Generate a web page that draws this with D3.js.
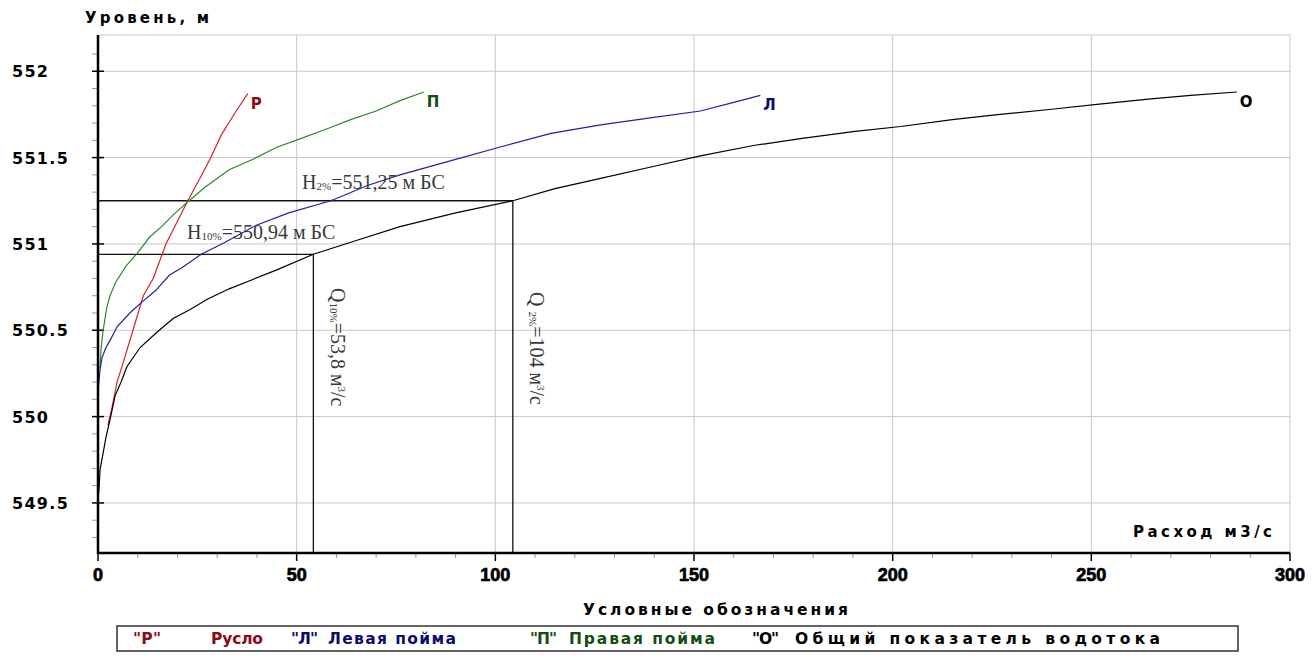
<!DOCTYPE html>
<html><head><meta charset="utf-8">
<script src="https://cdn.jsdelivr.net/npm/d3@7"></script>
<style>body{margin:0;background:#fff}svg{display:block}</style>
</head><body><svg id="c" width="1314" height="661"></svg>
<script>
// ---------- data ----------
const xTicks = [0, 50, 100, 150, 200, 250, 300];
const xTickLabels = ["0", "50", "100", "150", "200", "250", "300"];
const yTicks = [549.5, 550, 550.5, 551, 551.5, 552];
const yTickLabels = ["549.5", "550", "550.5", "551", "551.5", "552"];

// Русло (Р)
const rusloQ = [2.5, 3, 3.5, 4.8, 6.3, 8.8, 11.4, 13.9, 17.1, 22.6, 25.9, 28.4, 31, 34.5, 37.7];
const rusloH = [549.95, 550.0, 550.05, 550.2, 550.31, 550.5, 550.70, 550.8, 551.0, 551.25, 551.39, 551.5, 551.63, 551.76, 551.87];
// Правая пойма (П)
const pravQ = [0.5, 0.8, 1.3, 2.2, 3, 4.5, 7, 10, 13, 16, 19, 22.9, 27, 33, 39, 45, 51, 58, 63.6, 70, 76, 82];
const pravH = [550.28, 550.4, 550.5, 550.63, 550.70, 550.78, 550.87, 550.95, 551.04, 551.10, 551.17, 551.25, 551.33, 551.43, 551.49, 551.56, 551.61, 551.67, 551.72, 551.77, 551.83, 551.88];
// Левая пойма (Л)
const levQ = [0.1, 0.5, 1, 2, 3, 4.8, 8, 11.4, 14.5, 18, 21, 26, 32, 40, 48, 58.6, 68, 76, 90, 101, 114, 126.5, 139, 151.6, 160, 166.7];
const levH = [550.17, 550.27, 550.34, 550.40, 550.44, 550.52, 550.60, 550.67, 550.73, 550.82, 550.86, 550.94, 551.01, 551.11, 551.18, 551.25, 551.34, 551.40, 551.49, 551.56, 551.64, 551.69, 551.73, 551.77, 551.82, 551.86];
// Общий показатель водотока (О)
const obshQ = [0, 0.3, 0.5, 1.3, 2, 3, 4.3, 5.8, 7.3, 10.6, 14.9, 19, 23.2, 27.5, 33, 38.5, 45, 54.2, 65, 76, 90, 104.4, 115, 126.5, 140, 151.6, 165, 176.8, 190, 202, 215, 227, 240, 252, 265, 275, 286.6];
const obshH = [549.52, 549.6, 549.69, 549.79, 549.88, 549.98, 550.12, 550.2, 550.29, 550.40, 550.49, 550.57, 550.62, 550.68, 550.74, 550.79, 550.85, 550.94, 551.02, 551.10, 551.18, 551.25, 551.32, 551.38, 551.45, 551.51, 551.57, 551.61, 551.65, 551.68, 551.72, 551.75, 551.78, 551.81, 551.84, 551.86, 551.88];

// design values
const q10 = 54.2, h10 = 550.94;
const q2 = 104.4, h2 = 551.25;

const seriesCodes = ["Р", "П", "Л", "О"];

// ---------- drawing ----------
const svg = d3.select("#c");
svg.append("rect").attr("width", 1314).attr("height", 661).attr("fill", "#fff");

const L = 98, R = 1290, T = 35, B = 553;
const x = d3.scaleLinear().domain([0, 300]).range([L, R]);
const y = d3.scaleLinear().domain([549.21, 552.21]).range([B, T]);

const heavy = "'DejaVu Sans', Verdana, sans-serif";
const arial = "'Liberation Sans', Arial, sans-serif";
const serif = "'Liberation Serif', 'Times New Roman', serif";

// grid
const g = svg.append("g");
g.selectAll(".gx").data(xTicks.filter(d => d > 0)).join("line")
  .attr("x1", d => x(d)).attr("x2", d => x(d)).attr("y1", T).attr("y2", B)
  .attr("stroke", "#c8c8c8").attr("stroke-width", 1);
g.selectAll(".gy").data(yTicks).join("line")
  .attr("x1", L).attr("x2", R).attr("y1", d => y(d)).attr("y2", d => y(d))
  .attr("stroke", "#c8c8c8").attr("stroke-width", 1);
g.append("line").attr("x1", L).attr("x2", R).attr("y1", T).attr("y2", T)
  .attr("stroke", "#c8c8c8");

// minor ticks
const xMinor = d3.range(0, 301, 10).filter(d => d % 50 !== 0);
g.selectAll(".mx").data(xMinor).join("line")
  .attr("x1", d => x(d)).attr("x2", d => x(d)).attr("y1", B).attr("y2", B + 5)
  .attr("stroke", "#999");
const yMinor = d3.range(549.3, 552.15, 0.1).map(v => +v.toFixed(1)).filter(v => Math.abs(v * 2 - Math.round(v * 2)) > 0.01);
g.selectAll(".my").data(yMinor).join("line")
  .attr("x1", L - 6).attr("x2", L).attr("y1", d => y(d)).attr("y2", d => y(d))
  .attr("stroke", "#999");

// major ticks
g.selectAll(".tx").data(xTicks).join("line")
  .attr("x1", d => x(d)).attr("x2", d => x(d)).attr("y1", B).attr("y2", B + 8)
  .attr("stroke", "#000").attr("stroke-width", 1.5);
g.selectAll(".ty").data(yTicks).join("line")
  .attr("x1", L - 6).attr("x2", L + 6).attr("y1", d => y(d)).attr("y2", d => y(d))
  .attr("stroke", "#000").attr("stroke-width", 1.5);

// tick labels
svg.selectAll(".ylab").data(yTicks).join("text")
  .attr("x", 12).attr("y", d => y(d) + 6)
  .attr("font-family", heavy).attr("font-weight", "bold").attr("font-size", 16)
  .attr("letter-spacing", 1.3).attr("fill", "#000")
  .text((d, i) => yTickLabels[i]);
svg.selectAll(".xlab").data(xTicks).join("text")
  .attr("x", d => x(d)).attr("y", 581).attr("text-anchor", "middle")
  .attr("font-family", arial).attr("font-weight", "bold").attr("font-size", 18)
  .attr("stroke", "#000").attr("stroke-width", 0.7).attr("fill", "#000")
  .text((d, i) => xTickLabels[i]);

// axis titles
svg.append("text").attr("x", 85).attr("y", 23)
  .attr("font-family", heavy).attr("font-weight", "bold").attr("font-size", 15)
  .attr("textLength", 124).attr("lengthAdjust", "spacing").text("Уровень, м");
svg.append("text").attr("x", 1133).attr("y", 537)
  .attr("font-family", heavy).attr("font-weight", "bold").attr("font-size", 15)
  .attr("textLength", 139).attr("lengthAdjust", "spacing").text("Расход м3/с");

// design level lines
const ann = svg.append("g").attr("stroke", "#111").attr("stroke-width", 1.3).attr("fill", "none");
ann.append("path").attr("d", `M${x(0)},${y(h2)}H${x(q2)}V${y(549.21)}`);
ann.append("path").attr("d", `M${x(0)},${y(h10)}H${x(q10)}V${y(549.21)}`);

// curves
const line = d3.line().x(d => x(d[0])).y(d => y(d[1]));
const curves = [
  {q: rusloQ, h: rusloH, color: "#d8202a", lab: "#8b0a14"},
  {q: pravQ, h: pravH, color: "#2a8a2a", lab: "#124d12"},
  {q: levQ, h: levH, color: "#2020a8", lab: "#0c0c6e"},
  {q: obshQ, h: obshH, color: "#000", lab: "#000"}
];
curves.forEach((c, i) => {
  const pts = c.q.map((q, k) => [q, c.h[k]]);
  svg.append("path").attr("d", line(pts)).attr("fill", "none")
    .attr("stroke", c.color).attr("stroke-width", 1.2);
  const last = pts[pts.length - 1];
  svg.append("text").attr("x", x(last[0]) + 3).attr("y", y(last[1]) + 15)
    .attr("font-family", heavy).attr("font-weight", "bold").attr("font-size", 15)
    .attr("fill", c.lab).text(seriesCodes[i]);
});

// axes lines
svg.append("line").attr("x1", L).attr("x2", L).attr("y1", T).attr("y2", B + 1)
  .attr("stroke", "#000").attr("stroke-width", 2.5);
svg.append("line").attr("x1", L - 1).attr("x2", R).attr("y1", B).attr("y2", B)
  .attr("stroke", "#000").attr("stroke-width", 2.5);

// annotation texts
function hLabel(px, py, sub, rest) {
  const t = svg.append("text").attr("x", px).attr("y", py)
    .attr("font-family", serif).attr("font-size", 20).attr("fill", "#3a3a3a");
  t.append("tspan").text("H");
  t.append("tspan").attr("font-size", 11).attr("dy", 1).text(sub);
  t.append("tspan").attr("dy", -1).text(rest);
}
hLabel(302, 189, "2%", "=551,25 м БС");
hLabel(187, 239, "10%", "=550,94 м БС");

function qLabel(px, py, pre, sub, val) {
  const t = svg.append("text").attr("transform", `translate(${px},${py}) rotate(90)`)
    .attr("font-family", serif).attr("font-size", 20).attr("fill", "#3a3a3a");
  t.append("tspan").text(pre);
  t.append("tspan").attr("font-size", 11).attr("dy", 1).text(sub);
  t.append("tspan").attr("dy", -1).text(val);
  t.append("tspan").attr("font-size", 11).attr("dy", -7).text("3");
  t.append("tspan").attr("dy", 7).text("/с");
}
qLabel(331, 288, "Q", "10%", "=53,8 м");
qLabel(530, 292, "Q ", "2%", "=104 м");

// legend
svg.append("text").attr("x", 583).attr("y", 615)
  .attr("font-family", heavy).attr("font-weight", "bold").attr("font-size", 15.5)
  .attr("textLength", 265).attr("lengthAdjust", "spacing").text("Условные обозначения");
svg.append("rect").attr("x", 117).attr("y", 626).attr("width", 1121).attr("height", 25)
  .attr("fill", "none").attr("stroke", "#333").attr("stroke-width", 1.5);
const legendItems = [
  {t: "\"Р\"", x: 133, w: 28, c: "#8b0a14"},
  {t: "Русло", x: 211, w: 52, c: "#8b0a14"},
  {t: "\"Л\"", x: 291, w: 27, c: "#0c0c6e"},
  {t: "Левая пойма", x: 328, w: 128, c: "#0c0c6e"},
  {t: "\"П\"", x: 530, w: 27, c: "#124d12"},
  {t: "Правая пойма", x: 569, w: 146, c: "#124d12"},
  {t: "\"О\"", x: 752, w: 27, c: "#000"},
  {t: "Общий показатель водотока", x: 795, w: 365, c: "#000"}
];
svg.selectAll(".leg").data(legendItems).join("text")
  .attr("x", d => d.x).attr("y", 644)
  .attr("font-family", heavy).attr("font-weight", "bold").attr("font-size", 15.5)
  .attr("textLength", d => d.w).attr("lengthAdjust", "spacing")
  .attr("fill", d => d.c).text(d => d.t);
</script></body></html>
